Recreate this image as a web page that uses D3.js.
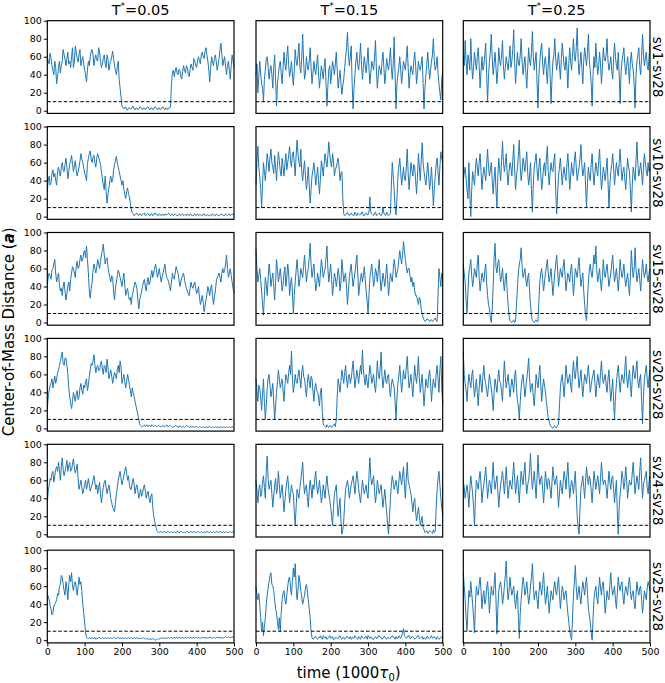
<!DOCTYPE html>
<html>
<head>
<meta charset="utf-8">
<script src="https://cdn.jsdelivr.net/npm/d3@7"></script>
<style>
  body { margin: 0; background: #fff; }
  svg text { font-family: "DejaVu Sans", sans-serif; fill: #000; }
</style>
</head>
<body>
<div id="chart"></div>
<script>
'use strict';

// temperatures (columns) and pairs (rows)
const temps = ["0.05", "0.15", "0.25"];
const pairs = ["sv1-sv28", "sv10-sv28", "sv15-sv28", "sv20-sv28", "sv24-sv28", "sv25-sv28"];

// sample times, 1000 tau0
const time = [0,2.5,5,7.5,10,12.5,15,17.5,20,22.5,25,27.5,30,32.5,35,37.5,40,42.5,45,47.5,
  50,52.5,55,57.5,60,62.5,65,67.5,70,72.5,75,77.5,80,82.5,85,87.5,90,92.5,95,97.5,
  100,102.5,105,107.5,110,112.5,115,117.5,120,122.5,125,127.5,130,132.5,135,137.5,140,142.5,145,147.5,
  150,152.5,155,157.5,160,162.5,165,167.5,170,172.5,175,177.5,180,182.5,185,187.5,190,192.5,195,197.5,
  200,202.5,205,207.5,210,212.5,215,217.5,220,222.5,225,227.5,230,232.5,235,237.5,240,242.5,245,247.5,
  250,252.5,255,257.5,260,262.5,265,267.5,270,272.5,275,277.5,280,282.5,285,287.5,290,292.5,295,297.5,
  300,302.5,305,307.5,310,312.5,315,317.5,320,322.5,325,327.5,330,332.5,335,337.5,340,342.5,345,347.5,
  350,352.5,355,357.5,360,362.5,365,367.5,370,372.5,375,377.5,380,382.5,385,387.5,390,392.5,395,397.5,
  400,402.5,405,407.5,410,412.5,415,417.5,420,422.5,425,427.5,430,432.5,435,437.5,440,442.5,445,447.5,
  450,452.5,455,457.5,460,462.5,465,467.5,470,472.5,475,477.5,480,482.5,485,487.5,490,492.5,495,497.5,500];

const yTicks = [0, 20, 40, 60, 80, 100];
const xTicks = [0, 100, 200, 300, 400, 500];
const cutoff = 10;

// sv1-sv28
const sv1_t005 = [60,55,52,64,58,50,45,40,55,48,30,38,48,55,42,50,55,68,62,57,
  50,58,65,52,55,48,60,70,48,55,72,65,58,54,62,68,50,56,60,52,
  45,40,32,45,55,50,60,66,68,62,50,58,62,56,55,70,65,55,48,52,
  58,62,52,48,62,57,45,52,55,60,66,58,50,45,40,48,55,35,25,15,
  5,3,2,4,4,1,1,3,3,2,2,4,5,2,1,3,3,1,2,4,
  4,2,1,3,3,1,2,4,4,2,1,3,3,1,2,4,4,2,1,3,
  3,1,2,4,4,2,1,3,3,1,2,4,4,30,42,45,38,44,48,42,
  40,46,45,38,35,44,50,45,42,50,48,40,38,46,52,48,45,58,55,50,
  48,56,60,55,52,62,65,60,58,66,70,62,55,45,32,48,60,54,50,58,
  62,55,45,52,58,68,75,62,50,56,60,48,40,50,55,45,35,50,62,55,48];
const sv1_t015 = [40,52,20,38,55,42,30,25,10,35,45,58,60,48,35,45,50,40,25,48,
  62,35,5,30,40,50,55,42,30,48,65,52,45,60,72,50,38,45,55,40,
  28,45,68,55,50,62,75,48,42,58,85,55,35,42,60,50,45,55,70,48,
  30,42,55,45,40,52,62,40,25,38,50,44,35,48,58,30,5,28,45,50,
  30,42,55,48,40,52,65,45,25,35,45,30,18,28,35,48,60,70,87,62,
  50,60,72,30,2,25,40,55,65,50,45,58,75,52,35,48,60,50,42,55,
  70,48,30,42,55,50,45,60,78,45,25,40,50,45,40,55,65,48,30,42,
  58,50,45,55,70,48,35,52,82,40,2,30,40,48,60,45,30,42,55,50,
  45,58,72,48,25,40,50,45,40,55,65,50,30,42,55,48,45,52,60,30,
  2,25,40,52,65,48,35,45,55,62,80,55,45,50,60,42,30,20,12,35,45];
const sv1_t025 = [60,50,78,55,40,62,55,45,80,52,35,48,65,55,45,60,70,50,25,45,
  60,45,50,62,75,40,10,38,55,65,85,58,40,52,65,48,30,45,70,55,
  50,62,78,50,35,48,60,52,45,58,72,48,55,68,90,55,30,48,65,52,
  50,62,80,55,40,50,60,42,25,48,70,55,50,65,88,60,45,55,65,30,
  3,40,55,68,75,52,40,55,60,45,30,52,70,40,8,35,55,62,80,58,
  45,55,65,50,35,58,75,62,50,45,60,48,25,52,70,55,45,62,80,60,
  55,70,92,58,40,52,65,48,30,55,70,60,50,65,85,55,45,30,5,40,
  60,48,75,55,40,50,65,52,30,48,70,58,55,62,80,55,45,52,60,45,
  35,58,75,60,50,45,65,40,8,42,55,62,70,52,40,50,60,48,30,55,
  65,52,45,30,3,38,55,62,70,50,40,60,85,62,50,58,65,50,45,60,75];

// sv10-sv28
const sv10_t005 = [28,40,45,35,38,48,52,44,48,40,35,50,55,48,45,55,60,52,50,58,
  65,55,42,50,58,62,68,58,50,56,62,52,45,50,55,62,70,64,60,55,
  48,45,40,58,65,70,73,64,60,66,68,60,55,65,70,66,62,58,50,42,
  35,30,45,28,15,25,32,40,45,38,40,52,58,62,67,60,55,50,45,40,
  35,40,30,25,20,28,32,25,22,15,8,4,3,1,2,3,4,2,1,3,
  3,1,2,3,4,1,2,3,3,2,1,3,3,1,2,4,4,2,2,1,
  3,2,1,3,2,1,3,2,2,3,4,2,1,2,3,1,2,3,2,1,
  1,2,3,1,2,3,1,2,2,1,3,2,1,3,2,1,1,2,3,1,
  2,3,1,2,2,1,1,3,3,1,1,2,2,1,1,2,1,3,2,1,
  1,3,2,1,1,2,3,2,2,1,1,3,2,1,2,3,1,2,3,2,2];
const sv10_t015 = [35,60,78,55,45,30,10,35,60,50,40,55,70,62,50,65,75,60,55,48,
  68,55,40,58,72,62,50,45,65,55,45,60,70,52,60,68,78,62,55,70,
  72,60,45,68,85,70,60,55,75,50,40,52,62,45,30,40,55,35,15,30,
  45,52,60,48,35,45,55,40,25,42,62,55,45,58,70,62,55,68,83,70,
  60,55,70,62,45,52,55,60,65,55,40,48,50,20,3,1,2,4,5,2,
  1,3,4,2,2,1,5,3,1,4,3,2,2,5,5,1,1,3,4,2,
  2,4,22,5,3,2,1,4,5,1,2,3,4,2,1,3,10,4,2,1,
  5,3,1,2,3,35,60,45,30,10,2,20,45,55,65,50,35,45,55,42,
  40,55,75,48,30,45,60,52,45,58,55,40,25,45,70,55,40,62,82,60,
  50,42,35,48,60,45,30,40,55,35,12,30,45,58,65,50,35,55,72,65,60];
const sv10_t025 = [40,48,55,42,30,20,60,25,0,30,50,42,35,52,65,55,45,60,70,50,
  30,45,55,48,40,58,75,55,45,52,60,40,25,42,55,30,10,45,65,52,
  40,62,84,60,50,58,70,48,35,50,60,55,45,62,80,52,30,45,55,68,
  85,55,40,50,65,58,50,62,72,48,35,45,60,30,5,35,55,62,70,52,
  40,55,65,48,30,42,55,60,45,65,78,50,35,48,60,52,50,62,70,30,
  3,25,45,55,65,50,35,48,55,45,40,58,70,52,30,45,60,50,45,62,
  72,55,40,48,55,65,80,58,45,52,60,35,10,38,55,45,40,58,70,50,
  35,48,60,52,45,62,75,50,30,42,55,48,40,52,65,40,10,35,50,58,
  70,55,35,48,60,52,45,60,75,55,40,50,55,42,30,48,65,55,50,30,
  5,35,55,48,40,62,83,58,45,52,60,48,35,55,70,60,50,45,60,50,55];

// sv15-sv28
const sv15_t005 = [42,50,55,52,48,58,60,65,70,55,45,50,55,42,35,38,30,40,45,35,
  25,32,40,45,35,48,55,62,60,55,50,62,68,60,62,70,75,68,70,78,
  80,72,85,70,55,35,27,38,45,58,65,60,55,62,70,65,60,68,75,80,
  87,75,65,70,72,62,55,50,45,52,50,35,25,38,45,52,58,55,50,45,
  40,48,55,42,30,35,38,30,25,28,20,30,35,40,45,42,38,25,15,25,
  30,35,40,45,48,40,35,45,50,42,45,52,58,50,55,60,65,58,50,55,
  60,52,45,50,55,60,65,55,50,48,45,40,35,45,55,50,48,55,62,58,
  55,48,40,45,50,52,55,48,42,38,35,32,30,38,45,40,38,42,45,38,
  32,35,40,28,20,25,30,22,12,18,25,32,40,35,30,38,42,30,20,28,
  35,45,50,52,55,50,45,55,60,55,58,65,75,60,50,55,60,52,45,38,33];
const sv15_t015 = [82,60,45,52,60,48,35,20,8,30,50,42,30,48,65,55,40,48,55,40,
  25,45,70,58,45,52,60,48,35,42,55,62,40,50,65,55,30,42,50,35,
  10,30,45,58,70,55,40,48,60,55,50,62,75,60,45,55,60,72,88,65,
  50,58,65,50,35,42,55,48,40,55,70,62,50,55,60,72,85,60,45,55,
  65,48,30,42,55,50,40,48,60,52,35,45,70,58,45,52,55,38,20,35,
  50,58,65,52,40,48,55,65,75,55,30,40,50,55,45,52,62,48,35,25,
  10,30,50,58,65,52,40,48,60,55,45,58,70,50,35,45,55,48,40,52,
  65,48,30,42,55,50,45,58,70,62,50,55,60,70,80,72,65,75,90,80,
  70,62,55,60,60,52,45,50,40,45,35,30,30,25,20,28,25,15,10,5,
  3,1,2,4,4,2,1,3,3,1,2,4,5,2,1,30,60,50,40,55,48];
const sv15_t025 = [65,55,45,25,10,35,55,62,70,52,40,48,60,55,50,65,75,50,35,45,
  55,50,45,58,65,45,30,20,15,5,0,15,40,70,88,62,55,65,70,55,
  45,52,60,45,35,48,55,35,20,8,2,1,0,2,3,0,1,20,40,55,
  65,70,83,62,50,55,60,48,40,50,55,35,20,8,2,1,0,2,3,1,
  1,25,45,55,60,48,35,45,55,62,70,55,45,52,60,45,30,42,55,65,
  75,58,40,50,60,55,50,62,70,52,35,45,55,50,45,58,65,48,30,45,
  60,55,50,62,72,55,40,48,55,35,20,8,2,25,45,58,65,55,50,62,
  75,65,85,58,45,52,60,45,35,50,70,55,50,58,65,52,40,48,55,65,
  75,58,45,52,60,48,35,50,70,58,50,55,65,50,40,48,55,42,30,50,
  80,62,50,58,83,60,45,52,60,48,35,52,70,58,50,55,65,52,45,55,60];

// sv20-sv28
const sv20_t005 = [20,35,42,48,50,55,45,52,58,50,55,62,65,70,75,80,85,72,70,78,
  78,70,60,45,35,28,22,30,40,35,30,38,42,32,35,45,50,42,38,48,
  45,52,55,42,48,58,65,72,70,75,82,70,62,68,70,64,65,72,75,66,
  60,70,68,62,77,68,55,60,65,58,50,56,62,60,55,65,70,62,75,68,
  50,55,60,52,45,52,60,55,48,42,35,45,40,35,30,25,20,15,10,5,
  3,2,2,3,4,2,3,4,2,3,3,2,4,3,2,3,3,2,2,3,
  3,2,2,3,3,2,2,3,4,2,2,3,3,2,1,2,2,3,3,2,
  2,1,3,2,1,2,2,1,2,3,3,2,1,2,2,1,2,2,1,2,
  2,1,1,2,2,1,1,2,1,1,2,1,1,2,2,1,1,2,1,1,
  2,1,1,2,1,1,2,1,1,2,1,1,2,1,1,2,1,1,2,1,1];
const sv20_t015 = [55,42,30,48,45,35,20,38,55,30,10,25,45,55,60,48,35,42,50,28,
  10,25,40,52,65,55,45,50,55,42,30,48,60,55,50,62,70,60,86,55,
  40,48,60,52,50,58,65,55,45,62,70,58,55,45,35,50,60,52,45,58,
  55,42,30,45,50,42,40,35,25,40,45,20,5,3,2,1,4,2,1,3,
  3,1,2,4,5,2,10,35,55,48,40,52,65,58,50,62,70,55,45,58,
  60,50,55,65,75,58,45,55,65,58,50,62,70,60,87,65,55,48,60,52,
  45,58,70,62,50,55,60,48,40,55,75,60,55,65,85,58,45,55,65,52,
  50,58,60,45,35,48,55,50,45,30,10,35,50,58,70,55,40,52,65,55,
  55,68,80,60,45,52,60,48,35,52,70,58,50,62,80,55,40,50,60,42,
  25,40,55,48,45,58,65,50,30,45,55,48,45,60,70,55,40,65,80,45,28];
const sv20_t025 = [85,60,50,42,30,48,60,52,45,58,65,48,35,45,55,40,25,45,60,50,
  40,58,70,55,50,42,35,48,60,52,45,35,20,40,55,48,40,55,65,52,
  50,40,30,55,75,58,45,52,60,48,35,45,55,48,40,58,65,45,30,25,
  10,30,45,55,60,48,35,45,55,65,78,55,40,48,50,35,25,42,60,52,
  45,58,70,48,30,45,55,48,40,30,20,12,8,4,2,1,0,2,3,1,
  1,3,5,25,45,55,60,48,35,52,70,58,50,55,60,48,40,62,75,60,
  55,68,80,58,45,55,65,50,35,48,60,55,50,62,70,55,40,48,55,60,
  65,50,35,48,60,52,45,62,75,58,50,55,60,48,40,55,65,45,30,42,
  55,30,10,35,50,62,70,55,40,52,60,55,50,65,80,58,45,55,65,48,
  35,55,70,60,55,65,75,52,45,55,60,30,5,35,55,62,70,55,45,58,65];

// sv24-sv28
const sv24_t005 = [35,48,55,62,60,68,70,58,65,72,75,70,80,72,60,75,85,72,65,70,
  75,82,70,76,80,70,72,78,84,74,68,72,78,62,50,55,60,52,45,50,
  55,60,50,55,62,55,48,52,55,60,65,58,50,55,45,52,58,45,35,45,
  52,58,60,52,45,50,55,48,40,35,30,28,25,35,45,52,60,65,70,62,
  55,60,65,70,75,68,60,65,55,50,50,58,62,55,45,52,55,48,40,45,
  50,42,45,52,55,48,40,45,48,40,35,42,45,30,20,15,10,5,3,2,
  2,3,3,2,2,3,3,2,2,3,3,2,2,3,2,2,3,2,2,3,
  3,2,2,3,3,2,2,2,2,3,3,2,2,3,3,2,2,3,3,2,
  2,3,3,2,2,3,2,2,3,2,2,3,3,2,2,3,2,2,3,2,
  2,3,3,2,2,3,3,2,2,3,2,2,3,2,2,3,3,2,2,3,3];
const sv24_t015 = [60,48,35,50,55,42,45,58,65,52,40,70,87,62,50,55,60,45,30,42,
  55,62,45,52,70,55,40,48,55,40,25,38,50,58,65,50,35,45,55,48,
  45,25,10,30,50,45,40,52,60,70,80,58,45,52,55,42,30,48,60,52,
  40,55,50,62,70,55,45,50,60,48,35,42,55,48,40,55,65,52,45,38,
  30,20,10,30,45,50,55,35,20,30,40,15,0,5,15,35,50,55,60,52,
  40,48,55,60,65,55,45,58,70,62,50,42,35,48,60,52,45,50,55,45,
  40,65,85,62,55,60,65,48,35,45,60,52,45,50,55,42,30,40,50,35,
  25,10,0,20,40,55,65,58,50,55,60,52,45,58,70,62,55,65,75,55,
  40,62,80,60,55,50,45,35,25,35,40,25,15,22,30,20,10,15,20,8,
  5,2,3,4,1,2,4,3,2,1,5,2,3,30,50,62,70,55,40,30,20];
const sv24_t025 = [60,52,40,48,55,45,30,50,65,55,45,30,10,40,60,55,50,62,70,55,
  35,48,55,65,75,58,40,52,60,55,45,62,80,60,50,58,65,48,30,45,
  55,62,70,58,45,60,75,55,40,52,60,55,50,65,80,62,45,55,65,50,
  35,55,70,62,55,68,80,58,45,55,60,72,90,65,50,60,70,55,40,62,
  88,65,55,62,65,50,35,52,70,58,50,62,60,50,40,58,75,62,55,60,
  65,48,30,45,60,52,45,58,70,62,50,65,80,58,40,52,60,55,45,58,
  70,45,20,8,0,30,50,58,65,52,40,60,75,62,55,65,60,48,35,52,
  70,60,50,58,65,55,45,62,80,65,55,60,60,52,40,55,70,58,50,62,
  65,50,35,48,60,25,0,30,45,55,70,62,50,58,75,60,40,52,60,55,
  55,68,80,62,45,55,65,58,50,70,85,60,40,55,60,65,70,52,45,58,65];

// sv25-sv28
const sv25_t005 = [52,48,45,38,35,28,30,38,40,42,45,52,50,60,62,72,70,62,55,50,
  65,58,45,62,72,65,75,60,55,62,65,58,50,60,70,62,65,55,40,30,
  20,8,3,2,2,3,2,2,3,2,2,3,1,2,2,3,3,2,2,3,
  2,2,3,2,2,3,2,2,3,2,2,3,3,2,2,3,2,2,3,2,
  2,3,2,2,3,2,2,3,2,2,3,2,2,3,2,2,3,2,2,2,
  2,2,3,2,2,1,2,2,1,1,2,1,1,2,1,1,0,1,1,2,
  1,2,2,3,2,2,3,2,2,3,3,2,3,3,2,3,3,2,3,3,
  2,3,3,2,3,3,2,3,3,2,3,3,2,3,3,2,3,3,2,3,
  3,2,3,3,2,3,3,3,3,2,3,3,2,3,3,3,3,2,3,3,
  2,3,3,3,3,2,3,3,2,3,3,4,3,3,4,3,3,3,3,4,3];
const sv25_t015 = [60,50,45,52,40,25,10,20,5,15,25,40,50,58,65,72,75,62,60,55,
  45,35,30,20,12,25,10,30,45,52,55,45,40,50,60,68,70,58,50,65,
  80,70,85,60,45,55,72,65,55,48,40,45,50,58,62,55,45,35,25,10,
  3,1,2,4,4,2,1,3,3,5,2,1,5,3,2,4,1,2,3,5,
  2,3,4,1,1,3,3,2,2,4,5,2,1,3,3,1,2,4,4,2,
  2,4,1,3,3,2,5,3,2,1,4,2,1,5,3,2,2,4,4,1,
  5,3,2,4,3,1,1,3,4,2,2,5,5,3,3,1,2,4,4,2,
  1,3,3,2,2,4,5,3,3,1,4,2,2,5,3,2,5,8,13,5,
  4,2,3,5,5,2,2,4,4,3,1,2,3,5,5,2,2,3,4,1,
  3,2,1,4,4,2,2,3,5,2,3,4,2,1,4,3,1,2,3,4,2];
const sv25_t025 = [75,60,45,25,10,35,55,48,65,52,40,25,8,40,60,52,50,62,70,55,
  35,48,55,40,45,58,65,50,30,45,60,52,50,62,75,45,7,35,55,62,
  65,55,40,48,60,72,88,60,45,55,70,58,50,55,60,45,35,48,55,25,
  2,30,45,58,70,62,50,55,65,52,40,48,60,70,85,62,45,52,55,45,
  35,52,65,58,50,62,75,55,40,48,60,45,30,42,55,50,45,58,65,55,
  50,62,70,52,35,48,60,55,45,52,55,42,30,20,10,5,0,25,50,65,
  83,60,45,52,60,48,40,55,65,58,50,62,70,52,35,28,20,8,0,25,
  45,55,60,48,40,55,70,58,50,62,65,48,30,42,55,48,45,62,75,58,
  50,55,60,45,35,52,70,60,55,62,65,50,40,52,60,55,50,62,70,55,
  45,52,55,42,35,50,65,55,50,58,60,45,30,42,55,50,45,58,65,60,55];

const grid = [
  [sv1_t005, sv1_t015, sv1_t025],
  [sv10_t005, sv10_t015, sv10_t025],
  [sv15_t005, sv15_t015, sv15_t025],
  [sv20_t005, sv20_t015, sv20_t025],
  [sv24_t005, sv24_t015, sv24_t025],
  [sv25_t005, sv25_t015, sv25_t025]
];

const w = 665;
const h = 683;

const colX = [47.3, 256, 463.3];
const panelW = 186.7;
const rowTop = 20.7;
const rowStep = 105.9;
const panelH = 92.7;

const svg = d3.select("#chart").append("svg").
attr("width", w).
attr("height", h);

const x = d3.scaleLinear().domain([0, 500]).range([0, panelW]);
const y = d3.scaleLinear().domain([-3, 100]).range([panelH, 0]);

const line = d3.line().
x((d, i) => x(time[i])).
y(d => y(d));

grid.forEach((row, r) => {
  row.forEach((vals, c) => {
    const g = svg.append("g").
    attr("transform", "translate(" + colX[c] + "," + (rowTop + rowStep * r) + ")");

    g.append("path").
    datum(vals).
    attr("d", line).
    attr("fill", "none").
    attr("stroke", "#1f77b4").
    attr("stroke-width", 1).
    attr("stroke-linejoin", "round");

    //threshold
    g.append("line").
    attr("x1", x(0)).attr("x2", x(500)).
    attr("y1", y(cutoff)).attr("y2", y(cutoff)).
    attr("stroke", "#000").
    attr("stroke-width", 1).
    attr("stroke-dasharray", "3.5,2");

    g.append("rect").
    attr("width", panelW).
    attr("height", panelH).
    attr("fill", "none").
    attr("stroke", "#000").
    attr("stroke-width", 1.2);

    if (c === 0) {
      const ay = g.append("g").
      call(d3.axisLeft(y).tickValues(yTicks).tickSize(3.5).tickPadding(2));
      ay.select(".domain").remove();
      ay.selectAll("text").attr("font-size", "9.5px").attr("font-family", "DejaVu Sans");
    }
    if (r === grid.length - 1) {
      const ax = g.append("g").
      attr("transform", "translate(0," + panelH + ")").
      call(d3.axisBottom(x).tickValues(xTicks).tickSize(3.5).tickPadding(2));
      ax.select(".domain").remove();
      ax.selectAll("text").attr("font-size", "9.5px").attr("font-family", "DejaVu Sans");
    }
  });

  //pair label on the right
  const cy = rowTop + rowStep * r + panelH / 2;
  svg.append("text").
  attr("transform", "translate(658," + cy + ") rotate(90)").
  attr("text-anchor", "middle").
  attr("dominant-baseline", "central").
  attr("font-size", "13.5px").
  text(pairs[r]);
});

//column titles
temps.forEach((t, c) => {
  const tt = svg.append("text").
  attr("x", colX[c] + panelW / 2).
  attr("y", 15).
  attr("text-anchor", "middle").
  attr("font-size", "14.5px");
  tt.append("tspan").text("T");
  tt.append("tspan").attr("font-size", "9px").attr("dy", -6).text("*");
  tt.append("tspan").attr("dy", 6).text("=" + t);
});

//axis titles
const gridMid = rowTop + (rowStep * (grid.length - 1) + panelH) / 2;
const yl = svg.append("text").
attr("transform", "translate(9," + gridMid + ") rotate(-90)").
attr("text-anchor", "middle").
attr("dominant-baseline", "central").
attr("font-size", "15px");
yl.append("tspan").text("Center-of-Mass Distance (");
yl.append("tspan").attr("font-style", "italic").attr("font-weight", "bold").text("a");
yl.append("tspan").text(")");

const xl = svg.append("text").
attr("x", (colX[0] + colX[2] + panelW) / 2).
attr("y", 678).
attr("text-anchor", "middle").
attr("font-size", "15px");
xl.append("tspan").text("time (1000");
xl.append("tspan").attr("font-style", "italic").text("τ");
xl.append("tspan").attr("font-size", "10px").attr("dy", 3).text("0");
xl.append("tspan").attr("dy", -3).text(")");
</script>
</body>
</html>
